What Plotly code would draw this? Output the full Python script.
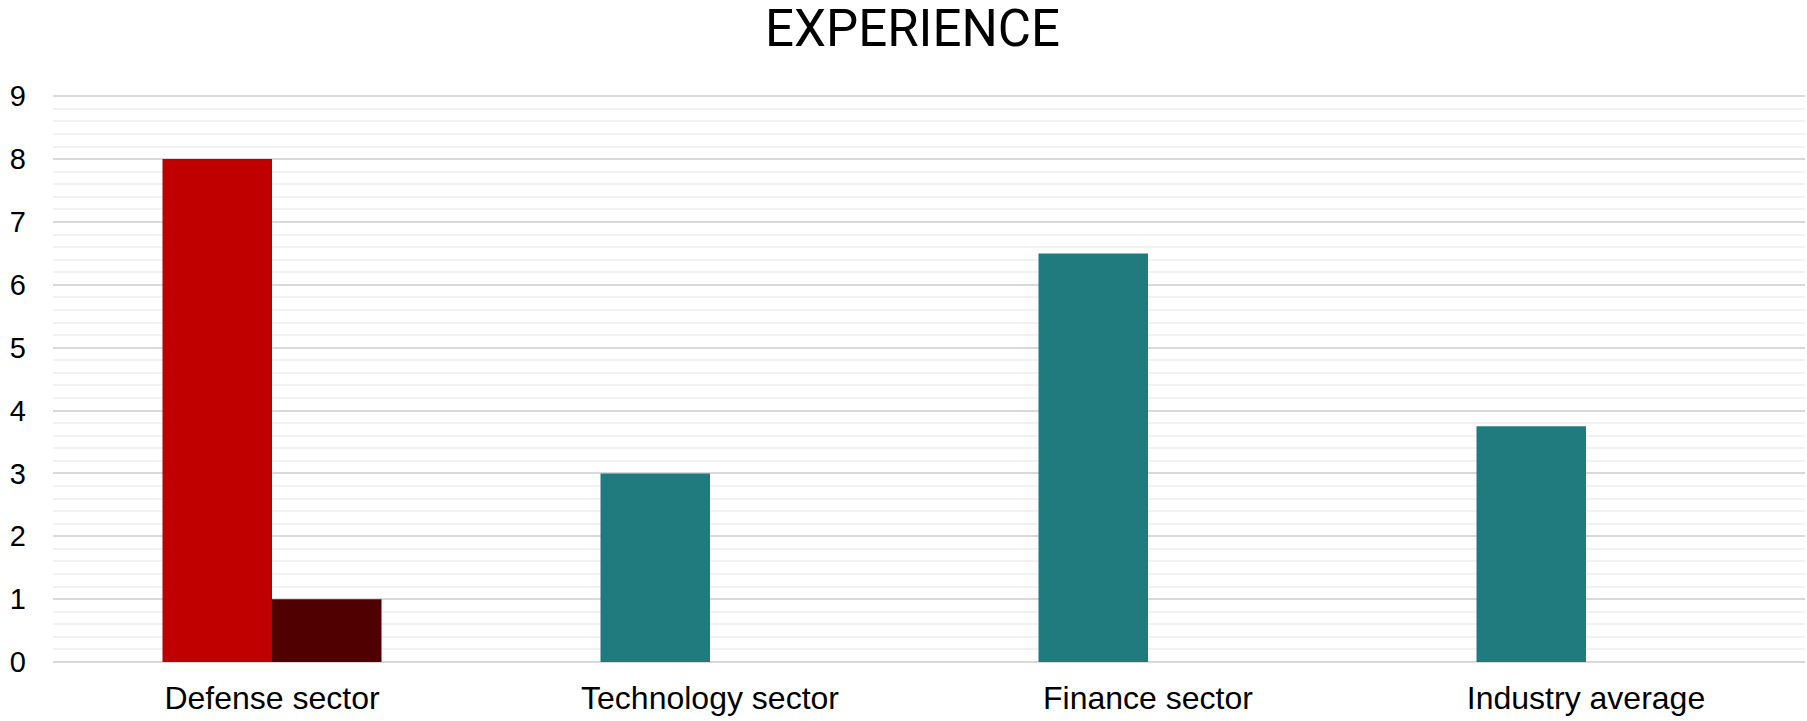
import plotly.graph_objects as go

categories = ["Defense sector", "Technology sector", "Finance sector", "Industry average"]
primary_values = [8, 3, 6.5, 3.75]
primary_colors = ["#C00000", "#1F7B7E", "#1F7B7E", "#1F7B7E"]
secondary_values = [1, None, None, None]
secondary_color = "#500000"
y_ticks = [0, 1, 2, 3, 4, 5, 6, 7, 8, 9]

fig = go.Figure()
fig.add_trace(go.Bar(
    x=categories, y=primary_values,
    marker=dict(color=primary_colors, line=dict(width=0)),
    name="Primary",
))
fig.add_trace(go.Bar(
    x=categories, y=secondary_values,
    marker=dict(color=secondary_color, line=dict(width=0)),
    name="Secondary",
))

fig.update_layout(
    width=1807, height=721,
    paper_bgcolor="white", plot_bgcolor="white",
    barmode="group", bargap=0.5, bargroupgap=0,
    showlegend=False,
    margin=dict(l=53, r=2, t=95, b=59),
    title=dict(
        text="EXPERIENCE",
        x=0.505, xanchor="center",
        y=0.986, yanchor="top",
        font=dict(family="Roboto", size=51, color="#000000"),
    ),
    xaxis=dict(
        showgrid=False, showline=False, zeroline=False,
        ticks="", ticklabelstandoff=14,
        tickfont=dict(family="Liberation Sans, Arial", size=32, color="#000000"),
    ),
    yaxis=dict(
        # a hair of headroom so the gridline at 9 is still drawn
        range=[0, 9.02], tickvals=y_ticks,
        showgrid=True, gridcolor="#D9D9D9", gridwidth=2,
        zeroline=True, zerolinecolor="#D9D9D9", zerolinewidth=2,
        showline=False, ticks="", ticklabelstandoff=26,
        tickfont=dict(family="Liberation Sans, Arial", size=29, color="#000000"),
        minor=dict(dtick=0.2, showgrid=True, gridcolor="#F2F2F2", gridwidth=2),
    ),
)

fig.write_html("out.html")
